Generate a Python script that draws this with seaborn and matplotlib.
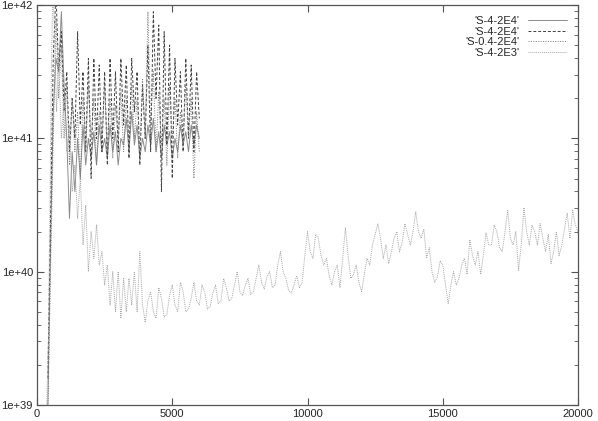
import numpy as np
import pandas as pd
import matplotlib
matplotlib.use("Agg")
import matplotlib.pyplot as plt
from matplotlib.ticker import FixedLocator, FuncFormatter, LogLocator, NullFormatter
import seaborn as sns

# time steps for the three short runs
short_steps = list(range(400, 6001, 100))

# log10 of the plotted quantity
solid_a = [39.0, 40.2, 41.2, 41.6, 41.5, 41.95, 41.4, 41.0, 40.4, 40.9,
           40.6, 41.0, 40.7, 41.1, 40.8, 41.0, 40.85, 41.05, 40.8, 41.1,
           40.9, 41.0, 40.85, 41.1, 40.9, 41.05, 40.8, 41.0, 40.95, 41.15,
           40.9, 41.2, 40.95, 41.1, 40.85, 41.0, 40.9, 41.1, 40.95, 41.15,
           40.9, 41.05, 40.85, 41.1, 40.95, 41.05, 40.85, 41.0, 40.9, 41.1,
           40.95, 41.05, 40.9, 41.1, 40.95, 41.1, 41.0]
dashed_b = [39.2, 40.4, 41.6, 42.1, 41.5, 41.8, 41.2, 41.5, 40.9, 41.3,
            41.0, 41.8, 41.1, 41.5, 40.9, 41.6, 40.7, 41.6, 41.0, 41.55,
            40.9, 41.5, 40.8, 41.6, 41.0, 41.5, 40.9, 41.6, 41.1, 41.55,
            40.85, 41.6, 41.2, 41.5, 40.8, 41.4, 41.0, 41.7, 40.9, 41.95,
            41.3, 41.85, 40.6, 41.8, 40.95, 41.7, 40.7, 41.6, 41.1, 41.5,
            40.9, 41.6, 41.0, 41.55, 40.9, 41.5, 41.15]
dotted_c = [38.9, 40.0, 41.0, 41.9, 41.3, 41.7, 41.0, 41.4, 40.8, 41.3,
            40.9, 41.2, 40.7, 41.3, 40.9, 41.4, 41.0, 41.3, 40.8, 41.2,
            41.0, 41.4, 40.9, 41.3, 40.85, 41.25, 41.0, 41.35, 40.9, 41.3,
            40.95, 41.4, 41.0, 41.3, 40.9, 41.45, 41.0, 41.95, 41.1, 41.5,
            40.9, 41.35, 40.95, 41.3, 40.8, 41.4, 41.0, 41.3, 40.85, 41.2,
            40.95, 41.4, 41.0, 41.3, 40.7, 41.2, 40.9]

# long run (to 20000)
long_steps = [350, 420, 480, 530, 580, 650, 720, 800, 900, 1000,
              1100, 1200, 1300, 1400, 1500, 1600, 1700, 1800, 1900, 2000,
              2100, 2200, 2300, 2400, 2500, 2600, 2700, 2800, 2900, 3000,
              3100, 3200, 3300, 3400, 3500, 3600, 3700, 3800, 3900] + list(range(4000, 20001, 100))
long_d = [38.9, 39.5, 40.5, 41.5, 42.1, 41.8, 41.2, 41.6, 41.0, 41.3,
          40.9, 41.1, 40.6, 40.8, 40.4, 40.7, 40.2, 40.5, 40.0, 40.3,
          40.1, 40.35, 40.05, 40.15, 39.9, 40.05, 39.75, 40.0, 39.7, 40.0,
          39.65, 39.95, 39.7, 39.95, 39.75, 40.0, 39.7, 40.15, 39.75,
          # 4000 .. 20000
          39.62, 39.78, 39.85, 39.7, 39.65, 39.88, 39.8, 39.66, 39.68, 39.82,
          39.9, 39.75, 39.7, 39.92, 39.85, 39.7, 39.72, 39.8, 39.92, 39.78,
          39.75, 39.9, 39.85, 39.72, 39.74, 39.84, 39.9, 39.76, 39.78, 39.95,
          39.88, 39.78, 39.8, 39.9, 40.0, 39.85, 39.82, 39.9, 39.95, 39.83,
          39.85, 39.95, 40.05, 39.92, 39.87, 39.96, 40.0, 39.88, 39.9, 40.05,
          40.15, 40.0, 39.95, 39.86, 39.84, 39.9, 39.97, 39.88, 39.92, 40.12,
          40.3, 40.15, 40.1, 40.28, 40.25, 40.12, 40.05, 40.1, 39.97, 39.9,
          40.0, 40.05, 39.88, 40.1, 40.33, 40.12, 39.95, 39.98, 40.05, 39.92,
          39.85, 39.98, 40.1, 40.05, 40.2, 40.28, 40.36, 40.25, 40.1, 40.2,
          40.06, 40.15, 40.25, 40.3, 40.15, 40.22, 40.36, 40.28, 40.2, 40.3,
          40.45, 40.3, 40.25, 40.32, 40.1, 40.18, 40.0, 39.92, 39.96, 40.08,
          40.05, 39.9, 39.76, 39.9, 40.0, 39.9, 39.95, 40.05, 40.1, 39.98,
          40.24, 40.12, 40.05, 40.15, 39.98, 40.12, 40.29, 40.2, 40.2, 40.35,
          40.3, 40.18, 40.15, 40.3, 40.46, 40.25, 40.2, 40.3, 40.01, 40.2,
          40.48, 40.3, 40.2, 40.35, 40.3, 40.2, 40.36, 40.25, 40.15, 40.28,
          40.06, 40.15, 40.3, 40.12, 40.2, 40.32, 40.44, 40.25, 40.46, 40.35,
          40.3]

labels = ["'S-4-2E4'", "'S-4-2E4'", "'S-0.4-2E4'", "'S-4-2E3'"]

sns.set_style("ticks")
plt.rcParams['font.family'] = ['Liberation Sans', 'DejaVu Sans']

fig = plt.figure(figsize=(5.98, 4.21), dpi=100)
ax = fig.add_axes([0.0619, 0.038, 0.9047, 0.950])

series = [
    (short_steps, solid_a, labels[0], '#8c8c8c', '-'),
    (short_steps, dashed_b, labels[1], '#404040', (0, (3, 2))),
    (short_steps, dotted_c, labels[2], '#7a7a7a', (0, (1, 1.5))),
    (long_steps, long_d, labels[3], '#a8a8a8', (0, (1, 1))),
]
for xs, ys, lab, col, ls in series:
    df = pd.DataFrame({'step': xs, 'val': 10.0 ** np.array(ys)})
    sns.lineplot(data=df, x='step', y='val', ax=ax, color=col, linestyle=ls,
                 linewidth=0.7, label=lab, sort=False, estimator=None)

ax.set_yscale('log')
ax.set_xlim(0, 20000)
ax.set_ylim(1e39, 1e42)
ax.set_xlabel('')
ax.set_ylabel('')

ax.xaxis.set_major_locator(FixedLocator([0, 5000, 10000, 15000, 20000]))
ax.yaxis.set_major_locator(FixedLocator([1e39, 1e40, 1e41, 1e42]))
ax.yaxis.set_major_formatter(FuncFormatter(lambda v, p: '1e+%d' % round(np.log10(v))))
ax.yaxis.set_minor_locator(LogLocator(base=10, subs=np.arange(2, 10)))
ax.yaxis.set_minor_formatter(NullFormatter())

ax.tick_params(which='both', direction='in', top=True, right=True,
               labelsize=8, color='#555555', pad=3)
ax.tick_params(which='major', length=5, width=0.8)
ax.tick_params(which='minor', length=3, width=0.6)
for s in ax.spines.values():
    s.set_color('#555555')
    s.set_linewidth(0.9)

leg = ax.legend(loc='upper right', frameon=False, markerfirst=False, fontsize=8,
                handlelength=3.5, labelspacing=0.05, borderaxespad=0.6)
for t in leg.get_texts():
    t.set_ha('right')

fig.savefig('out.png', dpi=100)
